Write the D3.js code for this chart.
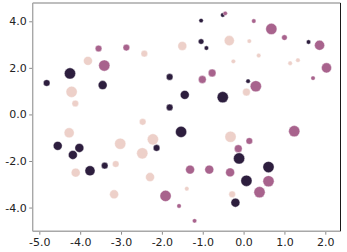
<!DOCTYPE html>
<html>
<head>
<meta charset="utf-8">
<script src="https://cdn.jsdelivr.net/npm/d3@7"></script>
<style>
  html, body { margin: 0; padding: 0; background: #fff; }
  svg { display: block; }
  text { font-family: "DejaVu Sans", sans-serif; font-size: 11px; fill: #222; }
</style>
</head>
<body>
<div id="app"></div>
<script>
// hue level 0 = light, 1 = mauve, 2 = dark ; size level 1..4
// [x, y, size]
const lightPoints = [
  [-4.21, 0.97, 4], [-4.12, 0.47, 2], [-3.81, 2.30, 3], [-2.43, 2.61, 2],
  [-1.50, 2.94, 3], [-2.47, -0.32, 2], [-4.27, -0.79, 3.5], [-0.35, 3.17, 3.5],
  [0.14, 3.15, 1], [0.37, 2.53, 1], [-0.25, 2.28, 1], [1.14, 2.20, 1],
  [1.33, 2.33, 1], [0.07, 0.96, 2.5], [-4.11, -2.50, 3], [-3.13, -2.13, 2],
  [-3.02, -1.26, 4], [-3.17, -3.43, 3], [-2.48, -1.67, 4], [-2.22, -1.07, 4],
  [-2.29, -2.69, 3], [-0.32, -0.96, 4], [-1.39, -3.19, 1], [-0.28, -3.43, 2]
]
const mauvePoints = [
  [-3.55, 2.83, 2], [-3.41, 2.10, 4], [-2.87, 2.87, 2], [-0.45, 4.34, 1],
  [0.25, 4.01, 1], [0.68, 3.67, 4], [1.00, 3.30, 1.5], [1.86, 2.97, 3.5],
  [2.03, 2.00, 3.5], [1.70, 1.56, 1], [-0.77, 1.78, 2.5], [-1.01, 1.50, 2.5],
  [0.30, 1.21, 4], [1.24, -0.72, 4], [-1.91, -3.50, 4], [-1.58, -3.93, 1],
  [0.14, -1.14, 2], [-0.13, -1.47, 2.5], [-1.31, -2.37, 3], [-0.84, -2.37, 3],
  [-0.33, -2.49, 3], [0.61, -2.87, 4], [0.39, -3.34, 4], [-1.20, -4.57, 1]
]
const darkPoints = [
  [-4.82, 1.35, 2], [-4.25, 1.76, 4], [-3.45, 1.26, 3], [-1.81, 1.61, 2],
  [-1.81, 0.30, 2], [-1.53, -0.75, 4], [-1.04, 4.03, 1], [-0.51, 4.27, 1],
  [1.59, 3.11, 1], [-1.04, 3.13, 1.5], [-0.91, 2.85, 1], [0.11, 1.43, 1],
  [-0.51, 0.74, 4], [-1.44, 0.84, 3], [-4.55, -1.35, 3], [-4.18, -1.74, 3],
  [-4.02, -1.44, 3], [-3.76, -2.42, 3.5], [-3.40, -2.20, 2], [-2.13, -1.44, 2],
  [-0.11, -1.89, 4], [0.61, -2.26, 4], [0.07, -2.85, 4], [-0.20, -3.79, 3]
]
const xTicks = [-5, -4, -3, -2, -1, 0, 1, 2]
const xTickLabels = ['-5.0', '-4.0', '-3.0', '-2.0', '-1.0', '0.0', '1.0', '2.0']
const yTicks = [-4, -2, 0, 2, 4]
const yTickLabels = ['-4.0', '-2.0', '0.0', '2.0', '4.0']

const _config = {
  width: 347,
  height: 252,
  left: 32.7,
  right: 340.5,
  top: 3,
  bottom: 231.2,
  tick: 3.5,
}

const svg = d3.select('#app')
  .append('svg')
  .attr('width', _config.width)
  .attr('height', _config.height)

const groups = [
  { hue: 2, points: darkPoints },
  { hue: 0, points: lightPoints },
  { hue: 1, points: mauvePoints },
]
const all = groups.flatMap(g => g.points)

// matplotlib style 5% margins
function padded(ext) {
  const p = (ext[1] - ext[0]) * 0.05
  return [ext[0] - p, ext[1] + p]
}
const xScale = d3.scaleLinear()
  .domain(padded(d3.extent(all, d => d[0])))
  .range([_config.left, _config.right])
const yScale = d3.scaleLinear()
  .domain(padded(d3.extent(all, d => d[1])))
  .range([_config.bottom, _config.top])
const rScale = d3.scaleLinear()
  .domain([1, 4])
  .range([2.2, 5.6])
const colorScale = d3.scaleOrdinal()
  .domain([0, 1, 2])
  .range(['#edd0c9', '#a8638d', '#2d1e3e'])

// points
const plot = svg.append('g')
groups.forEach(g => {
  plot.append('g')
    .selectAll('circle')
    .data(g.points)
    .enter()
    .append('circle')
    .attr('cx', d => xScale(d[0]))
    .attr('cy', d => yScale(d[1]))
    .attr('r', d => rScale(d[2]))
    .attr('fill', colorScale(g.hue))
    .attr('stroke', '#fff')
    .attr('stroke-width', 0.4)
})

// axes
const xAxis = d3.axisBottom(xScale)
  .tickValues(xTicks)
  .tickFormat((d, i) => xTickLabels[i])
  .tickSize(_config.tick)
  .tickPadding(4)
const yAxis = d3.axisLeft(yScale)
  .tickValues(yTicks)
  .tickFormat((d, i) => yTickLabels[i])
  .tickSize(_config.tick)
  .tickPadding(2.5)

const gx = svg.append('g')
  .attr('transform', `translate(0, ${_config.bottom})`)
  .call(xAxis)
const gy = svg.append('g')
  .attr('transform', `translate(${_config.left}, 0)`)
  .call(yAxis)
;[gx, gy].forEach(g => {
  g.select('.domain').remove()
  g.selectAll('.tick line').attr('stroke', '#8c8c8c')
  g.selectAll('.tick text')
    .attr('fill', '#222')
    .style('font-family', '"DejaVu Sans", sans-serif')
    .style('font-size', '11px')
})

// spines
const spines = svg.append('g').attr('fill', 'none')
spines.append('line')
  .attr('x1', _config.left).attr('x2', _config.left)
  .attr('y1', _config.top).attr('y2', _config.bottom)
  .attr('stroke', '#a8a8a8').attr('stroke-width', 1.4)
spines.append('line')
  .attr('x1', _config.left).attr('x2', _config.right)
  .attr('y1', _config.bottom).attr('y2', _config.bottom)
  .attr('stroke', '#a8a8a8').attr('stroke-width', 1.4)
spines.append('line')
  .attr('x1', _config.left).attr('x2', _config.right)
  .attr('y1', _config.top).attr('y2', _config.top)
  .attr('stroke', '#a8a8a8').attr('stroke-width', 1.4)
spines.append('line')
  .attr('x1', _config.right).attr('x2', _config.right)
  .attr('y1', _config.top).attr('y2', _config.bottom)
  .attr('stroke', '#1a1a1a').attr('stroke-width', 1)
</script>
</body>
</html>
